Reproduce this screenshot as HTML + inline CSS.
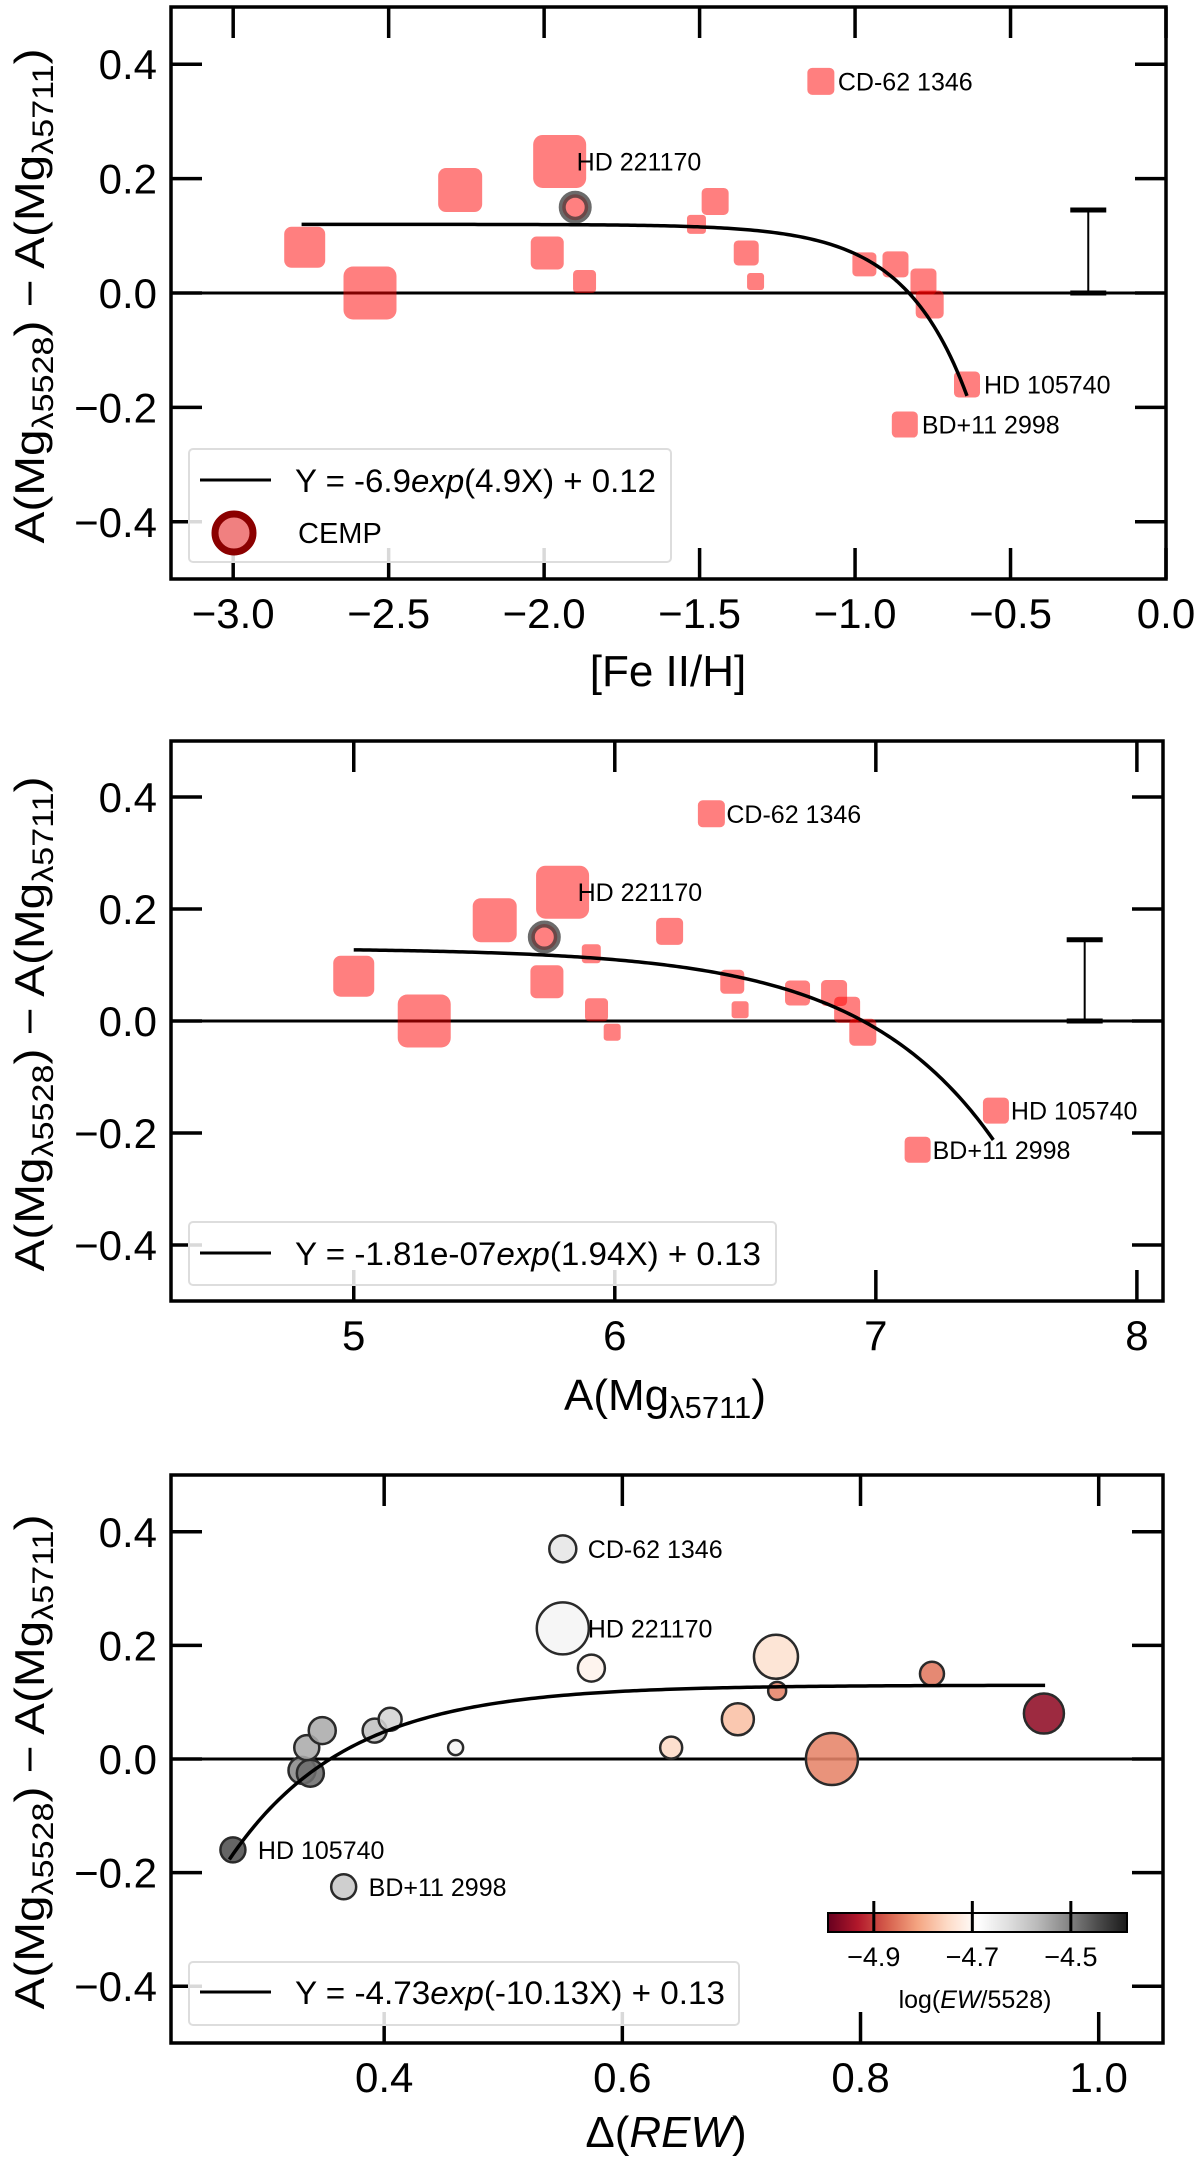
<!DOCTYPE html>
<html><head><meta charset="utf-8"><style>
html,body{margin:0;padding:0;background:#fff;}
svg{display:block;font-family:"Liberation Sans","DejaVu Sans",sans-serif;}
</style></head><body>
<svg id="fig" width="1200" height="2160" viewBox="0 0 1200 2160">
<defs>
<linearGradient id="rdgy" x1="0" x2="1" y1="0" y2="0">
<stop offset="0" stop-color="#67001f"/><stop offset="0.1" stop-color="#b2182b"/><stop offset="0.2" stop-color="#d6604d"/><stop offset="0.3" stop-color="#f4a582"/><stop offset="0.4" stop-color="#fddbc7"/><stop offset="0.5" stop-color="#ffffff"/><stop offset="0.6" stop-color="#e0e0e0"/><stop offset="0.7" stop-color="#bababa"/><stop offset="0.8" stop-color="#878787"/><stop offset="0.9" stop-color="#4d4d4d"/><stop offset="1" stop-color="#1a1a1a"/>
</linearGradient>
</defs>
<g id="p1"></g>
<g id="p2"></g>
<g id="p3"></g>

<!-- axis titles -->
<text transform="translate(44,296) rotate(-90)" text-anchor="middle" font-size="42" textLength="495" lengthAdjust="spacingAndGlyphs">A(Mg<tspan font-size="30" dy="9">λ5528</tspan><tspan dy="-9">) − A(Mg</tspan><tspan font-size="30" dy="9">λ5711</tspan><tspan dy="-9">)</tspan></text>
<text transform="translate(44,1024) rotate(-90)" text-anchor="middle" font-size="42" textLength="495" lengthAdjust="spacingAndGlyphs">A(Mg<tspan font-size="30" dy="9">λ5528</tspan><tspan dy="-9">) − A(Mg</tspan><tspan font-size="30" dy="9">λ5711</tspan><tspan dy="-9">)</tspan></text>
<text transform="translate(44,1762) rotate(-90)" text-anchor="middle" font-size="42" textLength="495" lengthAdjust="spacingAndGlyphs">A(Mg<tspan font-size="30" dy="9">λ5528</tspan><tspan dy="-9">) − A(Mg</tspan><tspan font-size="30" dy="9">λ5711</tspan><tspan dy="-9">)</tspan></text>
<text x="668" y="686" text-anchor="middle" font-size="44">[Fe II/H]</text>
<text x="665" y="1410" text-anchor="middle" font-size="44">A(Mg<tspan font-size="31" dy="8">λ5711</tspan><tspan dy="-8">)</tspan></text>
<text x="666" y="2147" text-anchor="middle" font-size="44">Δ(<tspan font-style="italic">REW</tspan>)</text>

<!-- legends -->
<g>
<rect x="189" y="449" width="482" height="113" rx="4" fill="rgba(255,255,255,0.85)" stroke="#ddd" stroke-width="2"/>
<line x1="200" y1="480" x2="271" y2="480" stroke="#000" stroke-width="3"/>
<text x="295" y="492" font-size="32" textLength="361" lengthAdjust="spacingAndGlyphs">Y = -6.9<tspan font-style="italic">exp</tspan>(4.9X) + 0.12</text>
<circle cx="234" cy="533" r="19" fill="#f08080" stroke="#8b0000" stroke-width="7"/>
<text x="298" y="543" font-size="29">CEMP</text>
</g>
<g>
<rect x="189" y="1222" width="587" height="63" rx="4" fill="rgba(255,255,255,0.85)" stroke="#ddd" stroke-width="2"/>
<line x1="200" y1="1253" x2="271" y2="1253" stroke="#000" stroke-width="3"/>
<text x="295" y="1265" font-size="32" textLength="466" lengthAdjust="spacingAndGlyphs">Y = -1.81e-07<tspan font-style="italic">exp</tspan>(1.94X) + 0.13</text>
</g>
<g>
<rect x="189" y="1962" width="550" height="63" rx="4" fill="rgba(255,255,255,0.85)" stroke="#ddd" stroke-width="2"/>
<line x1="200" y1="1992" x2="271" y2="1992" stroke="#000" stroke-width="3"/>
<text x="295" y="2004" font-size="32" textLength="430" lengthAdjust="spacingAndGlyphs">Y = -4.73<tspan font-style="italic">exp</tspan>(-10.13X) + 0.13</text>
</g>
<g id="cbar">
<rect x="828" y="1913" width="299" height="19" fill="url(#rdgy)" stroke="#000" stroke-width="2"/>
<text x="975" y="2008" text-anchor="middle" font-size="25">log(<tspan font-style="italic">EW</tspan>/5528)</text>
</g>
</svg>
<script>
// ---------- Panel 1 data: [Fe II/H] vs difference ----------
const P1_FEH  = [-2.77,-2.56,-2.27,-1.95,-1.99,-1.87,-1.51,-1.45,-1.35,-1.32,-1.11,-0.97,-0.87,-0.78,-0.76,-0.64,-0.84];
const P1_DIFF = [0.08,0.0,0.18,0.23,0.07,0.02,0.12,0.16,0.07,0.02,0.37,0.05,0.05,0.02,-0.02,-0.16,-0.23];
const P1_SIZE = [41,53,44,53,33,23,19,27,25,17,27,24,26,26,28,26,26];
const P1_CEMP_X = [-1.90];
const P1_CEMP_Y = [0.15];
const P1_XTICKS = [-3.0,-2.5,-2.0,-1.5,-1.0,-0.5,0.0];
const P1_XTICK_LABELS = ["−3.0","−2.5","−2.0","−1.5","−1.0","−0.5","0.0"];
const P1_FIT = [-6.9, 4.9, 0.12];
const P1_FIT_RANGE = [-2.78, -0.64];
const P1_LABEL_IDX = [10,3,15,16];
const P1_ERR = [-0.25, 0.0, 0.145];

// ---------- Panel 2 data: A(Mg5711) vs difference ----------
const P2_MG   = [5.00,5.27,5.54,5.80,5.74,5.93,5.99,5.91,6.21,6.45,6.48,6.37,6.70,6.84,6.89,6.95,7.46,7.16];
const P2_DIFF = [0.08,0.0,0.18,0.23,0.07,0.02,-0.02,0.12,0.16,0.07,0.02,0.37,0.05,0.05,0.02,-0.02,-0.16,-0.23];
const P2_SIZE = [41,53,44,53,33,23,17,19,27,24,17,27,25,26,26,27,26,26];
const P2_CEMP_X = [5.73];
const P2_CEMP_Y = [0.15];
const P2_XTICKS = [5,6,7,8];
const P2_XTICK_LABELS = ["5","6","7","8"];
const P2_FIT = [-1.81e-7, 1.94, 0.13];
const P2_FIT_RANGE = [5.0, 7.45];
const P2_LABEL_IDX = [11,3,16,17];
const P2_ERR = [7.80, 0.0, 0.145];

// ---------- Panel 3 data: Delta(REW) vs difference ----------
const P3_REW   = [0.273,0.366,0.331,0.338,0.335,0.348,0.392,0.405,0.46,0.55,0.55,0.574,0.641,0.697,0.729,0.73,0.776,0.86,0.954];
const P3_DIFF  = [-0.16,-0.225,-0.02,-0.025,0.02,0.05,0.05,0.07,0.02,0.37,0.23,0.16,0.02,0.07,0.18,0.12,0.0,0.15,0.08];
const P3_LOGEW = [-4.45,-4.59,-4.51,-4.48,-4.55,-4.55,-4.58,-4.61,-4.67,-4.64,-4.67,-4.71,-4.75,-4.78,-4.74,-4.84,-4.84,-4.85,-4.96];
const P3_SIZE  = [25,25,27,27,25,27,24,23,15,27,52,27,22,32,44,18,52,24,40];
const P3_XTICKS = [0.4,0.6,0.8,1.0];
const P3_XTICK_LABELS = ["0.4","0.6","0.8","1.0"];
const P3_FIT = [-4.73, -10.13, 0.13];
const P3_FIT_RANGE = [0.27, 0.955];
const P3_LABEL_IDX = [9,10,0,1];
const CB_TICKS = [-4.9,-4.7,-4.5];
const CB_TICK_LABELS = ["−4.9","−4.7","−4.5"];
const CB_RANGE = [-4.993, -4.386];

const LABEL_NAMES = ["CD-62 1346","HD 221170","HD 105740","BD+11 2998"];
const YTICKS = [-0.4,-0.2,0.0,0.2,0.4];
const YTICK_LABELS = ["−0.4","−0.2","0.0","0.2","0.4"];

const NS = "http://www.w3.org/2000/svg";
function mk(tag, parent, attrs){
  const e = document.createElementNS(NS, tag);
  for (const k in attrs) e.setAttribute(k, attrs[k]);
  parent.appendChild(e);
  return e;
}
function scale(d0,d1,r0,r1){ return v => r0 + (v-d0)/(d1-d0)*(r1-r0); }

const RDGY = ["#67001f","#b2182b","#d6604d","#f4a582","#fddbc7","#ffffff","#e0e0e0","#bababa","#878787","#4d4d4d","#1a1a1a"];
function hex(c){ return [parseInt(c.slice(1,3),16),parseInt(c.slice(3,5),16),parseInt(c.slice(5,7),16)]; }
function cmap(v){
  let f = (v-CB_RANGE[0])/(CB_RANGE[1]-CB_RANGE[0]);
  f = Math.max(0,Math.min(1,f))*10;
  const i = Math.min(9, Math.floor(f)), t = f - i;
  const a = hex(RDGY[i]), b = hex(RDGY[i+1]);
  return "rgb(" + a.map((x,k)=>Math.round(x+(b[k]-x)*t)).join(",") + ")";
}

function drawFrame(g, X, Y, box, xticks, xlabels, id){
  // zero line
  const z = mk("line", g, {x1:box.x0, x2:box.x1, y1:Y(0), y2:Y(0), stroke:"#000","stroke-width":3});
  
  
  xticks.forEach((t,i)=>{
    const px = X(t);
    const tb = mk("line", g, {x1:px,x2:px,y1:box.y1,y2:box.y1-31,stroke:"#000","stroke-width":3.5});
    
    
    const tt = mk("line", g, {x1:px,x2:px,y1:box.y0,y2:box.y0+31,stroke:"#000","stroke-width":3.5});
    
    
    const lb = mk("text", g, {x:px, y:box.y1+49, "text-anchor":"middle", "font-size":42});
    lb.textContent = xlabels[i];
    
    
  });
  YTICKS.forEach((t,i)=>{
    const py = Y(t);
    const tl = mk("line", g, {x1:box.x0,x2:box.x0+31,y1:py,y2:py,stroke:"#000","stroke-width":3.5});
    
    
    const tr = mk("line", g, {x1:box.x1,x2:box.x1-31,y1:py,y2:py,stroke:"#000","stroke-width":3.5});
    
    
    const lb = mk("text", g, {x:box.x0-14, y:py+15, "text-anchor":"end", "font-size":42});
    lb.textContent = YTICK_LABELS[i];
    
    
  });
}
function drawSpines(g, box, id){
  const r = mk("rect", g, {x:box.x0, y:box.y0, width:box.x1-box.x0, height:box.y1-box.y0, fill:"none", stroke:"#000","stroke-width":3.5});
  
  
}
function drawFit(g, X, Y, fit, range, id){
  let d = "";
  for (let k=0;k<=200;k++){
    const x = range[0] + (range[1]-range[0])*k/200;
    const y = fit[0]*Math.exp(fit[1]*x) + fit[2];
    d += (k?"L":"M") + X(x).toFixed(2) + "," + Y(y).toFixed(2);
  }
  const p = mk("path", g, {d:d, fill:"none", stroke:"#000", "stroke-width":3.5});
  
  
}
function drawErr(g, X, Y, err, id){
  const x = X(err[0]);
  const v = mk("line", g, {x1:x,x2:x,y1:Y(err[1]),y2:Y(err[2]),stroke:"#000","stroke-width":2});
  
  
  [err[1],err[2]].forEach(val=>{
    const c = mk("line", g, {x1:x-18,x2:x+18,y1:Y(val),y2:Y(val),stroke:"#000","stroke-width":5});
    
    
  });
}
function drawLabels(g, X, Y, xs, ys, idx, off, id){
  idx.forEach((pi,k)=>{
    const t = mk("text", g, {x:X(xs[pi])+off, y:Y(ys[pi])+9, "font-size":25});
    t.textContent = LABEL_NAMES[k];
    
    
  });
}
function drawSquares(g, X, Y, xs, ys, ss, id){
  xs.forEach((v,i)=>{
    const s = ss[i];
    const r = mk("rect", g, {x:X(v)-s/2, y:Y(ys[i])-s/2, width:s, height:s, rx:s*0.18, fill:"#ff0000","fill-opacity":0.5});
    
    
  });
}
function drawCemp(g, X, Y, xs, ys, id){
  xs.forEach((v,i)=>{
    const c = mk("circle", g, {cx:X(v), cy:Y(ys[i]), r:13, fill:"#ff8080", stroke:"rgba(50,50,50,0.72)", "stroke-width":7});
    
    
  });
}

// Panel 1
(function(){
  const g = document.getElementById("p1");
  const box = {x0:171,x1:1166,y0:7,y1:579};
  const X = scale(-3.2,0,box.x0,box.x1), Y = scale(-0.5,0.5,box.y1,box.y0);
  drawFrame(g,X,Y,box,P1_XTICKS,P1_XTICK_LABELS,"1");
  drawSquares(g,X,Y,P1_FEH,P1_DIFF,P1_SIZE,"1");
  drawCemp(g,X,Y,P1_CEMP_X,P1_CEMP_Y,"1");
  drawFit(g,X,Y,P1_FIT,P1_FIT_RANGE,"1");
  drawErr(g,X,Y,P1_ERR,"1");
  drawLabels(g,X,Y,P1_FEH,P1_DIFF,P1_LABEL_IDX,17,"1");
  drawSpines(g,box,"1");
})();
// Panel 2
(function(){
  const g = document.getElementById("p2");
  const box = {x0:171,x1:1163,y0:741,y1:1301};
  const X = scale(4.3,8.1,box.x0,box.x1), Y = scale(-0.5,0.5,box.y1,box.y0);
  drawFrame(g,X,Y,box,P2_XTICKS,P2_XTICK_LABELS,"2");
  drawSquares(g,X,Y,P2_MG,P2_DIFF,P2_SIZE,"2");
  drawCemp(g,X,Y,P2_CEMP_X,P2_CEMP_Y,"2");
  drawFit(g,X,Y,P2_FIT,P2_FIT_RANGE,"2");
  drawErr(g,X,Y,P2_ERR,"2");
  drawLabels(g,X,Y,P2_MG,P2_DIFF,P2_LABEL_IDX,15,"2");
  drawSpines(g,box,"2");
})();
// Panel 3
(function(){
  const g = document.getElementById("p3");
  const box = {x0:171,x1:1163,y0:1475,y1:2043};
  const X = scale(0.221,1.054,box.x0,box.x1), Y = scale(-0.5,0.5,box.y1,box.y0);
  drawFrame(g,X,Y,box,P3_XTICKS,P3_XTICK_LABELS,"3");
  P3_REW.forEach((v,i)=>{
    const c = mk("circle", g, {cx:X(v), cy:Y(P3_DIFF[i]), r:P3_SIZE[i]/2, fill:cmap(P3_LOGEW[i]), "fill-opacity":0.88, stroke:"#2a2a2a", "stroke-width":2.5});
    
    
  });
  drawFit(g,X,Y,P3_FIT,P3_FIT_RANGE,"3");
  drawLabels(g,X,Y,P3_REW,P3_DIFF,P3_LABEL_IDX,25,"3");
  drawSpines(g,box,"3");
  // colorbar ticks
  const cb = document.getElementById("cbar");
  const CX = scale(CB_RANGE[0],CB_RANGE[1],828,1127);
  CB_TICKS.forEach((t,i)=>{
    const l = mk("line", cb, {x1:CX(t),x2:CX(t),y1:1901,y2:1932,stroke:"#000","stroke-width":3});
    
    
    const tx = mk("text", cb, {x:CX(t), y:1966, "text-anchor":"middle", "font-size":27});
    tx.textContent = CB_TICK_LABELS[i];
    
    
  });
})();
</script>
</body></html>
